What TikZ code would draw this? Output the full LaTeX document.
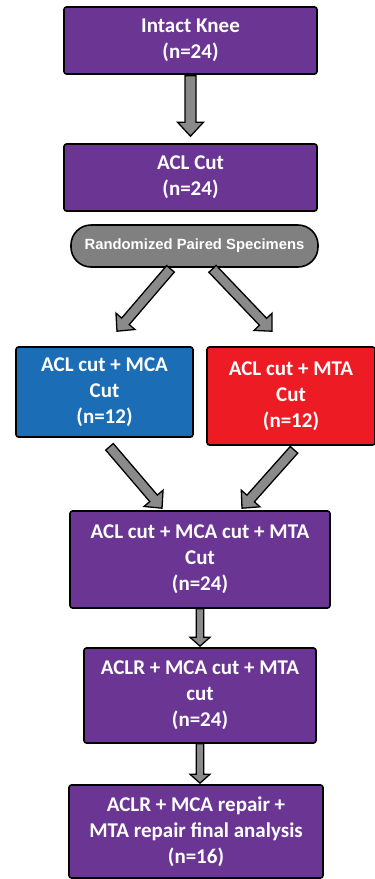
\documentclass[tikz,border=0pt]{standalone}
\usepackage{fontspec}
\usetikzlibrary{calc}
\newfontfamily\carl{Carlito}
\newfontfamily\libsans{Liberation Sans}
\definecolor{kpurple}{HTML}{6A3593}
\definecolor{kblue}{HTML}{1B6DB5}
\definecolor{kred}{HTML}{ED1C24}
\definecolor{kgray}{HTML}{808080}
\definecolor{agray}{HTML}{8A8A8A}
\tikzset{
  box/.style={draw=black, line width=1.6pt, rounded corners=2.5pt, text=white, align=center,
    font=\carl\bfseries\fontsize{21}{26}\selectfont, inner sep=0pt},
  pillbox/.style={draw=black, line width=1.6pt, fill=kgray, rounded corners=20pt, text=white,
    font=\libsans\bfseries\fontsize{14.8}{17}\selectfont, inner sep=0pt},
  blockarr/.style={draw=black, line width=1.3pt, fill=agray, line join=miter}
}
% #1 from, #2 to, #3 shaft half width, #4 head half width, #5 head length
\newcommand\blockarrow[5]{%
  \coordinate (bah) at ($(#2)!#5!(#1)$);
  \draw[blockarr] ($(#1)!#3!90:(#2)$) -- ($(bah)!#3!90:(#2)$) -- ($(bah)!#4!90:(#2)$) -- (#2)
    -- ($(bah)!#4!-90:(#2)$) -- ($(bah)!#3!-90:(#2)$) -- ($(#1)!#3!-90:(#2)$) -- cycle;
}
\begin{document}
\begin{tikzpicture}[x=1pt, y=-1pt]
\useasboundingbox (0,0) rectangle (375,879);
\node[box, fill=kpurple, minimum width=253pt, minimum height=67pt] (n1) at (190.5,40.5) {Intact Knee\\(n=24)};
\node[box, fill=kpurple, minimum width=253pt, minimum height=67pt] (n2) at (190.5,177.5) {ACL Cut\\(n=24)};
\node[pillbox, minimum width=247pt, minimum height=42pt] (pill) at (194.5,246) {Randomized Paired Specimens};
\node[box, fill=kblue, minimum width=177pt, minimum height=90pt] (blue) at (104.5,392) {ACL cut + MCA\\Cut\\(n=12)};
\node[box, fill=kred, minimum width=168pt, minimum height=98pt] (red) at (291,396) {ACL cut + MTA\\Cut\\(n=12)};
\node[box, fill=kpurple, minimum width=260pt, minimum height=97pt] (n3) at (200,559.5) {ACL cut + MCA cut + MTA\\Cut\\(n=24)};
\node[box, fill=kpurple, minimum width=232pt, minimum height=95pt] (n4) at (200,695.5) {ACLR + MCA cut + MTA\\cut\\(n=24)};
\node[box, fill=kpurple, minimum width=254pt, minimum height=93pt] (n5) at (196,831.5) {ACLR + MCA repair +\\MTA repair final analysis\\(n=16)};

\coordinate (a1s) at ([yshift=-1pt]n1.south);
\coordinate (a1e) at ([yshift=7pt]n2.north);
\blockarrow{a1s}{a1e}{5.5pt}{13pt}{14pt}

\coordinate (a2ls) at ([xshift=-24pt, yshift=-1pt]pill.south);
\coordinate (a2le) at ([xshift=12.5pt, yshift=15pt]blue.north);
\blockarrow{a2ls}{a2le}{5pt}{12.5pt}{13pt}
\coordinate (a2rs) at ([xshift=18pt, yshift=-1pt]pill.south);
\coordinate (a2re) at ([xshift=-19pt, yshift=15pt]red.north);
\blockarrow{a2rs}{a2re}{5pt}{12.5pt}{13pt}

\coordinate (a3ls) at ([xshift=5pt, yshift=-9pt]blue.south);
\coordinate (a3le) at ([xshift=-38pt, yshift=2pt]n3.north);
\blockarrow{a3ls}{a3le}{5pt}{12.5pt}{13pt}
\coordinate (a3rs) at ([xshift=3pt, yshift=-4pt]red.south);
\coordinate (a3re) at ([xshift=42pt, yshift=2pt]n3.north);
\blockarrow{a3rs}{a3re}{5pt}{12.5pt}{13pt}

\coordinate (a4s) at (n3.south);
\coordinate (a4e) at ([yshift=1pt]n4.north);
\blockarrow{a4s}{a4e}{3.8pt}{10pt}{9pt}
\coordinate (a5s) at (n4.south);
\coordinate (a5e) at ([xshift=4pt, yshift=1pt]n5.north);
\blockarrow{a5s}{a5e}{3.8pt}{10pt}{9pt}
\end{tikzpicture}
\end{document}
